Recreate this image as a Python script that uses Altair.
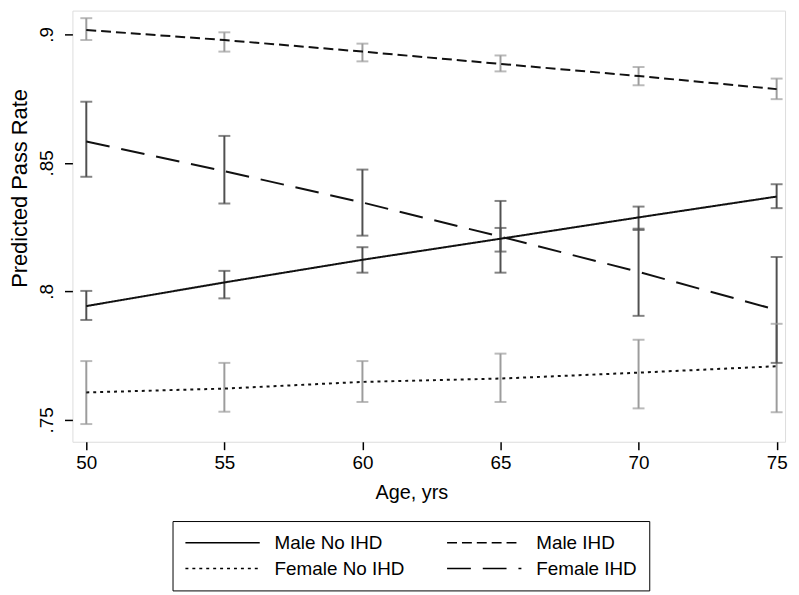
import altair as alt
import pandas as pd

ages = [50, 55, 60, 65, 70, 75]
series = ["Male No IHD", "Male IHD", "Female No IHD", "Female IHD"]
bar_tones = ["dark", "light", "light", "dark"]

male_no_ihd = [0.7943, 0.8035, 0.8123, 0.8205, 0.8288, 0.8369]
male_no_ihd_lo = [0.7889, 0.7973, 0.8073, 0.8155, 0.8239, 0.8324]
male_no_ihd_hi = [0.8002, 0.8080, 0.8172, 0.8247, 0.8330, 0.8417]

male_ihd = [0.9017, 0.8978, 0.8933, 0.8885, 0.8838, 0.8787]
male_ihd_lo = [0.8978, 0.8933, 0.8895, 0.8856, 0.8802, 0.8748]
male_ihd_hi = [0.9063, 0.9008, 0.8964, 0.8918, 0.8873, 0.8828]

female_no_ihd = [0.7607, 0.7622, 0.7648, 0.7661, 0.7684, 0.7709]
female_no_ihd_lo = [0.7484, 0.7532, 0.7570, 0.7570, 0.7545, 0.7530]
female_no_ihd_hi = [0.7729, 0.7722, 0.7729, 0.7758, 0.7812, 0.7874]

female_ihd = [0.8583, 0.8468, 0.8346, 0.8213, 0.8076, 0.7928]
female_ihd_lo = [0.8446, 0.8342, 0.8217, 0.8073, 0.7905, 0.7722]
female_ihd_hi = [0.8738, 0.8605, 0.8474, 0.8352, 0.8244, 0.8134]

y_ticks = [0.75, 0.8, 0.85, 0.9]
x_ticks = [50, 55, 60, 65, 70, 75]

centers = [male_no_ihd, male_ihd, female_no_ihd, female_ihd]
lows = [male_no_ihd_lo, male_ihd_lo, female_no_ihd_lo, female_ihd_lo]
highs = [male_no_ihd_hi, male_ihd_hi, female_no_ihd_hi, female_ihd_hi]

rows = []
for s, t, c, lo, hi in zip(series, bar_tones, centers, lows, highs):
    for a, v, l, h in zip(ages, c, lo, hi):
        rows.append({"age": a, "series": s, "tone": t, "rate": v, "lo": l, "hi": h})
df = pd.DataFrame(rows)

FONT = "Liberation Sans"
DARK = "#505050"
LIGHT = "#9c9c9c"

xscale = alt.Scale(domain=[49.4975, 75.305], nice=False, zero=False)
yscale = alt.Scale(domain=[0.74152, 0.90925], nice=False, zero=False)

xaxis = alt.Axis(values=x_ticks, format="d", tickSize=8, tickWidth=1.5, tickColor="black",
                 labelFontSize=19, labelFont=FONT, labelColor="black", labelPadding=4,
                 domain=False, grid=False, title="Age, yrs", titleFont=FONT,
                 titleFontSize=20, titleFontWeight="normal", titleColor="black",
                 titleX=342, titleY=57, titleBaseline="alphabetic", titleAlign="center")
yaxis = alt.Axis(values=y_ticks, labelExpr="substring(format(datum.value, '.2~f'), 1)",
                 tickSize=8, tickWidth=1.5, tickColor="black",
                 labelFontSize=19, labelFont=FONT, labelColor="black", labelPadding=8,
                 labelAngle=270, labelAlign="center", labelBaseline="bottom",
                 domain=False, grid=False, title="Predicted Pass Rate", titleFont=FONT,
                 titleFontSize=22, titleFontWeight="normal", titleColor="black",
                 titleAngle=270, titleX=-46, titleY=179, titleBaseline="alphabetic",
                 titleAlign="center")

bar_color = alt.Color("tone:N", scale=alt.Scale(domain=["dark", "light"], range=[DARK, LIGHT]),
                      legend=None)

base = alt.Chart(df)

bars = base.mark_rule(strokeWidth=2).encode(
    x=alt.X("age:Q", scale=xscale, axis=xaxis),
    y=alt.Y("lo:Q", scale=yscale, axis=yaxis),
    y2="hi:Q",
    color=bar_color,
)
caps_lo = base.mark_tick(orient="horizontal", size=12, thickness=2).encode(
    x=alt.X("age:Q", scale=xscale), y=alt.Y("lo:Q", scale=yscale), color=bar_color)
caps_hi = base.mark_tick(orient="horizontal", size=12, thickness=2).encode(
    x=alt.X("age:Q", scale=xscale), y=alt.Y("hi:Q", scale=yscale), color=bar_color)

lines = base.mark_line(color="#111111", strokeWidth=2).encode(
    x=alt.X("age:Q", scale=xscale),
    y=alt.Y("rate:Q", scale=yscale),
    strokeDash=alt.StrokeDash(
        "series:N",
        scale=alt.Scale(domain=series, range=[[1, 0], [10, 5], [3, 4], [24, 12]]),
        legend=alt.Legend(orient="none", legendX=101, legendY=515, columns=2, direction="horizontal",
                          title=None,
                          symbolType="stroke", symbolSize=5625, symbolStrokeWidth=1.5,
                          symbolStrokeColor="black", labelFontSize=19, labelFont=FONT,
                          labelColor="black", labelOffset=14, clipHeight=20, rowPadding=6,
                          columnPadding=42, padding=12, strokeColor="black", cornerRadius=0),
    ),
)

chart = alt.layer(bars, caps_lo, caps_hi, lines).properties(
    width=719, height=435,
    autosize=alt.AutoSizeParams(type="none"),
    padding={"left": 65, "top": 0, "right": 6, "bottom": 152},
).configure_view(stroke="black", strokeWidth=2).configure(background="white")

chart.save("out.html", embed_options={"renderer": "svg", "actions": False})
